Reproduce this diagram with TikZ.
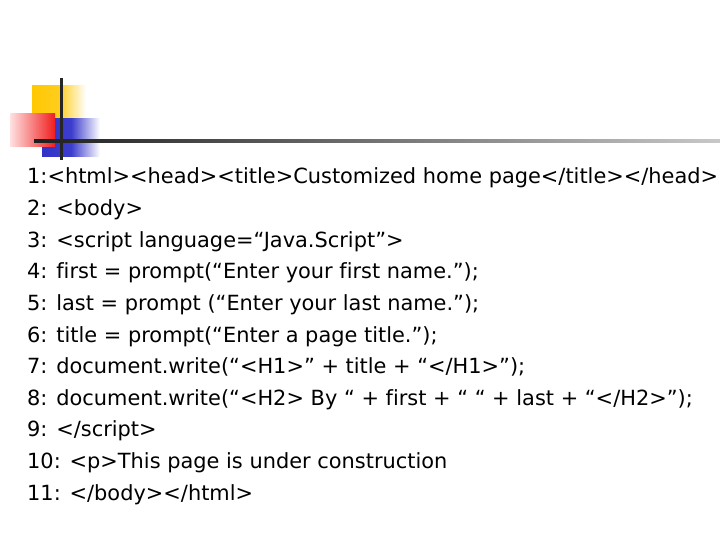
\documentclass[tikz,border=0pt]{standalone}
\usepackage{fontspec}
\setmainfont[Ligatures=NoCommon]{DejaVu Sans}
\begin{document}
\begin{tikzpicture}[x=1pt,y=-1pt,txt/.style={anchor=base west,inner sep=0pt,font=\fontsize{20.9}{24}\selectfont}]
\useasboundingbox[fill=white] (0,0) rectangle (720,540);
\shade[left color={rgb,255:red,255;green,200;blue,0},right color=white,middle color={rgb,255:red,255;green,205;blue,30}] (32,86) rectangle (86,119);
\shade[left color={rgb,255:red,50;green,50;blue,200},right color=white,middle color={rgb,255:red,60;green,60;blue,205}] (42,119) rectangle (100,157);
\shade[left color={rgb,255:red,255;green,225;blue,225},right color={rgb,255:red,240;green,30;blue,30}] (10,114) rectangle (55,147);
\shade[left color={rgb,255:red,30;green,30;blue,30},right color={rgb,255:red,200;green,200;blue,200}] (34,140) rectangle (720,143);
\fill[black!85] (60,78) rectangle (63,160);
\foreach \t [count=\i] in {
{1:<html><head><title>Customized home page</title></head>},
{2: <body>},
{3: <script language=“Java.Script”>},
{4: first = prompt(“Enter your first name.”);},
{5: last = prompt (“Enter your last name.”);},
{6: title = prompt(“Enter a page title.”);},
{7: document.write(“<H1>” + title + “</H1>”);},
{8: document.write(“<H2> By “ + first + “ “ + last + “</H2>”);},
{9: </script>},
{10: <p>This page is under construction},
{11: </body></html>}}
\node[txt] (l\i) at (27,{184+31.6*(\i-1)}) {\t};
\end{tikzpicture}
\end{document}
